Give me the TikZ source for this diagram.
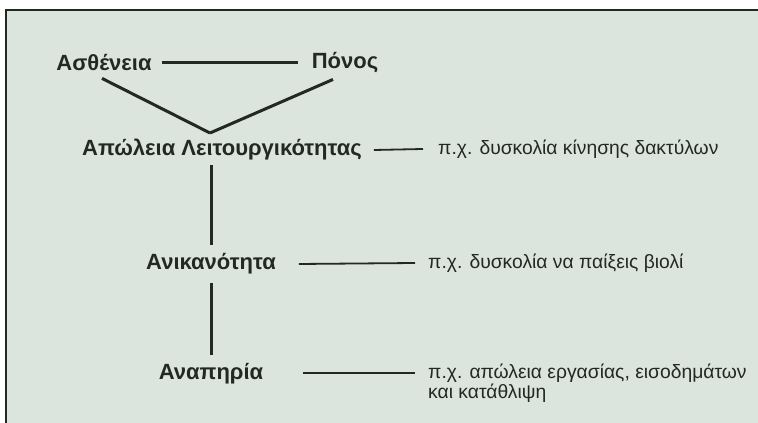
\documentclass[tikz,border=0pt]{standalone}
\usepackage{fontspec}
\setmainfont{Liberation Sans}
\usepackage{tikz}
\usetikzlibrary{positioning}
\definecolor{panelbg}{RGB}{220,229,221}
\definecolor{inkdark}{RGB}{34,40,36}

\begin{document}
\begin{tikzpicture}[x=1pt, y=1pt,
    term/.style = {inner sep=0pt, text=inkdark, font=\fontsize{22}{26}\selectfont\bfseries},
    example/.style = {inner sep=0pt, text=inkdark, anchor=west, align=left, font=\fontsize{19.3}{20}\selectfont},
    link/.style = {draw=inkdark, line width=3pt},
    note/.style = {draw=inkdark, line width=1.8pt}]
    % frame and background
    \useasboundingbox (0,0) rectangle (758,423);
    \fill[white] (0,0) rectangle (758,423);
    \fill[panelbg] (6,0) rectangle (758,413);
    \draw[inkdark, line width=2pt] (6,0) -- (6,413) -- (758,413);
        \node[term] (asth) at (104,360) {Ασθένεια};
        \node[term] (ponos) at (345,360) {Πόνος};
        \node[term] (apol) at (222,273) {Απώλεια Λειτουργικότητας};
        \node[term] (anik) at (211,159) {Ανικανότητα};
        \node[term] (anap) at (211,49) {Αναπηρία};
        \node[example] (ex1) at (438,274) {π.χ. δυσκολία κίνησης δακτύλων};
        \node[example] (ex2) at (428,160) {π.χ. δυσκολία να παίξεις βιολί};
        \node[example] (ex3) at (428,40) {π.χ. απώλεια εργασίας, εισοδημάτων\\και κατάθλιψη};
        \coordinate (meet) at (210,290);
        \draw[link] ([xshift=10pt]asth.east) -- ([xshift=-14pt]ponos.west);
        \draw[link] ([xshift=-2pt, yshift=-7pt]asth.south) -- (meet);
        \draw[link] ([xshift=-12pt, yshift=-6pt]ponos.south) -- (meet);
        \draw[link] ([yshift=-4pt]anik.north |- apol.south) -- ([yshift=8pt]anik.north);
        \draw[link] ([yshift=-8pt]anik.south) -- ([yshift=8pt]anap.north);
        \draw[note] ([xshift=12pt]apol.east) -- ([xshift=-15pt]ex1.west);
        \draw[note] ([xshift=23pt]anik.east) -- (ex2.west -| 415,0);
        \draw[note] ([xshift=40pt]anap.east |- 0,50) -- (415,50);
    \end{tikzpicture}
\end{document}
